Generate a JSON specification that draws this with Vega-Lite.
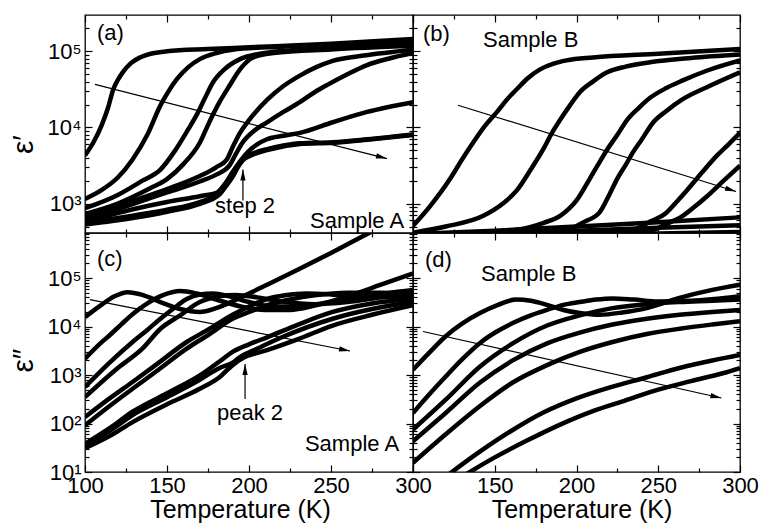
{
"$schema":"https://vega.github.io/schema/vega-lite/v6.json",
"padding":{"left":7,"top":13,"right":5,"bottom":5},
"background":"white",
"config":{"view":{"stroke":"black","strokeWidth":1.3},
"axis":{"domain":false,"grid":false,"labelFont":"Liberation Sans","labelFontSize":22,"labelColor":"black","labelFlush":false,"labelOverlap":false,"titleFont":"Liberation Sans","titleColor":"black","titleFontWeight":"normal","tickColor":"black","tickWidth":1.2},
"text":{"font":"Liberation Sans","fontSize":22,"color":"black"}},
"datasets":{
"curves":[
{"p":"a","c":1,"T":100,"v":4300},{"p":"a","c":1,"T":105,"v":6300},{"p":"a","c":1,"T":110,"v":10500},{"p":"a","c":1,"T":114,"v":18000},{"p":"a","c":1,"T":117.3,"v":32000},{"p":"a","c":1,"T":120,"v":42000},{"p":"a","c":1,"T":123,"v":53000},{"p":"a","c":1,"T":128,"v":70000},{"p":"a","c":1,"T":133.5,"v":83000},{"p":"a","c":1,"T":140,"v":93000},{"p":"a","c":1,"T":150,"v":100000},{"p":"a","c":1,"T":175,"v":107000},{"p":"a","c":1,"T":200,"v":113000},{"p":"a","c":1,"T":250,"v":126000},{"p":"a","c":1,"T":300,"v":145000},
{"p":"a","c":2,"T":100,"v":1150},{"p":"a","c":2,"T":110,"v":1500},{"p":"a","c":2,"T":120,"v":2200},{"p":"a","c":2,"T":129,"v":3800},{"p":"a","c":2,"T":138,"v":8000},{"p":"a","c":2,"T":146,"v":19500},{"p":"a","c":2,"T":151,"v":30000},{"p":"a","c":2,"T":156,"v":43000},{"p":"a","c":2,"T":163,"v":62000},{"p":"a","c":2,"T":170,"v":79000},{"p":"a","c":2,"T":180,"v":95000},{"p":"a","c":2,"T":190,"v":105000},{"p":"a","c":2,"T":220,"v":115000},{"p":"a","c":2,"T":260,"v":124000},{"p":"a","c":2,"T":300,"v":135000},
{"p":"a","c":3,"T":100,"v":870},{"p":"a","c":3,"T":120,"v":1300},{"p":"a","c":3,"T":135,"v":2000},{"p":"a","c":3,"T":146,"v":2800},{"p":"a","c":3,"T":155,"v":5000},{"p":"a","c":3,"T":163,"v":9500},{"p":"a","c":3,"T":168,"v":14500},{"p":"a","c":3,"T":173,"v":24000},{"p":"a","c":3,"T":178,"v":39000},{"p":"a","c":3,"T":185,"v":58000},{"p":"a","c":3,"T":194.5,"v":79000},{"p":"a","c":3,"T":205,"v":92000},{"p":"a","c":3,"T":230,"v":105000},{"p":"a","c":3,"T":260,"v":113000},{"p":"a","c":3,"T":300,"v":125000},
{"p":"a","c":4,"T":100,"v":730},{"p":"a","c":4,"T":120,"v":1000},{"p":"a","c":4,"T":140,"v":1600},{"p":"a","c":4,"T":150,"v":2100},{"p":"a","c":4,"T":160,"v":3300},{"p":"a","c":4,"T":170,"v":6300},{"p":"a","c":4,"T":176,"v":12000},{"p":"a","c":4,"T":182,"v":21500},{"p":"a","c":4,"T":188,"v":35000},{"p":"a","c":4,"T":194.5,"v":58000},{"p":"a","c":4,"T":202.5,"v":83000},{"p":"a","c":4,"T":215,"v":95000},{"p":"a","c":4,"T":250,"v":106000},{"p":"a","c":4,"T":300,"v":118000},
{"p":"a","c":5,"T":100,"v":650},{"p":"a","c":5,"T":130,"v":1100},{"p":"a","c":5,"T":150,"v":1550},{"p":"a","c":5,"T":170,"v":2300},{"p":"a","c":5,"T":180,"v":3000},{"p":"a","c":5,"T":186.5,"v":3800},{"p":"a","c":5,"T":190,"v":5500},{"p":"a","c":5,"T":194.5,"v":8500},{"p":"a","c":5,"T":200,"v":12500},{"p":"a","c":5,"T":211,"v":23000},{"p":"a","c":5,"T":221,"v":35000},{"p":"a","c":5,"T":231,"v":48000},{"p":"a","c":5,"T":241,"v":62000},{"p":"a","c":5,"T":251,"v":75000},{"p":"a","c":5,"T":270,"v":88000},{"p":"a","c":5,"T":300,"v":105000},
{"p":"a","c":6,"T":100,"v":610},{"p":"a","c":6,"T":130,"v":1000},{"p":"a","c":6,"T":150,"v":1400},{"p":"a","c":6,"T":170,"v":1950},{"p":"a","c":6,"T":180,"v":2400},{"p":"a","c":6,"T":188,"v":3150},{"p":"a","c":6,"T":192,"v":4500},{"p":"a","c":6,"T":196,"v":6300},{"p":"a","c":6,"T":203,"v":9000},{"p":"a","c":6,"T":211,"v":11700},{"p":"a","c":6,"T":221,"v":16000},{"p":"a","c":6,"T":231,"v":21500},{"p":"a","c":6,"T":240,"v":29000},{"p":"a","c":6,"T":247.5,"v":36000},{"p":"a","c":6,"T":260,"v":50000},{"p":"a","c":6,"T":272,"v":66000},{"p":"a","c":6,"T":285,"v":80000},{"p":"a","c":6,"T":300,"v":95000},
{"p":"a","c":7,"T":100,"v":580},{"p":"a","c":7,"T":130,"v":850},{"p":"a","c":7,"T":150,"v":1050},{"p":"a","c":7,"T":170,"v":1250},{"p":"a","c":7,"T":180.5,"v":1400},{"p":"a","c":7,"T":186,"v":1900},{"p":"a","c":7,"T":190,"v":2600},{"p":"a","c":7,"T":195,"v":3700},{"p":"a","c":7,"T":199,"v":4700},{"p":"a","c":7,"T":205,"v":6000},{"p":"a","c":7,"T":211,"v":7000},{"p":"a","c":7,"T":221,"v":7800},{"p":"a","c":7,"T":231,"v":8500},{"p":"a","c":7,"T":251,"v":11700},{"p":"a","c":7,"T":272,"v":16000},{"p":"a","c":7,"T":300,"v":21500},
{"p":"a","c":8,"T":100,"v":555},{"p":"a","c":8,"T":130,"v":700},{"p":"a","c":8,"T":150,"v":830},{"p":"a","c":8,"T":170,"v":1050},{"p":"a","c":8,"T":182,"v":1400},{"p":"a","c":8,"T":186,"v":1800},{"p":"a","c":8,"T":190,"v":2350},{"p":"a","c":8,"T":193,"v":3100},{"p":"a","c":8,"T":196,"v":3800},{"p":"a","c":8,"T":203,"v":4600},{"p":"a","c":8,"T":211,"v":5200},{"p":"a","c":8,"T":221,"v":5800},{"p":"a","c":8,"T":231,"v":6200},{"p":"a","c":8,"T":251,"v":6400},{"p":"a","c":8,"T":272,"v":7000},{"p":"a","c":8,"T":300,"v":8100},
{"p":"a","c":9,"T":100,"v":530},{"p":"a","c":9,"T":130,"v":650},{"p":"a","c":9,"T":150,"v":780},{"p":"a","c":9,"T":170,"v":990},{"p":"a","c":9,"T":182,"v":1320},{"p":"a","c":9,"T":186,"v":1700},{"p":"a","c":9,"T":190,"v":2250},{"p":"a","c":9,"T":193,"v":2950},{"p":"a","c":9,"T":196,"v":3650},{"p":"a","c":9,"T":203,"v":4450},{"p":"a","c":9,"T":211,"v":5050},{"p":"a","c":9,"T":231,"v":6050},{"p":"a","c":9,"T":251,"v":6300},{"p":"a","c":9,"T":272,"v":6900},{"p":"a","c":9,"T":300,"v":7950},

{"p":"b","c":1,"T":100,"v":510},{"p":"b","c":1,"T":110,"v":900},{"p":"b","c":1,"T":122.6,"v":2100},{"p":"b","c":1,"T":130,"v":3800},{"p":"b","c":1,"T":136.7,"v":6300},{"p":"b","c":1,"T":144,"v":10500},{"p":"b","c":1,"T":151.4,"v":16000},{"p":"b","c":1,"T":158,"v":24000},{"p":"b","c":1,"T":163.6,"v":32000},{"p":"b","c":1,"T":170,"v":44000},{"p":"b","c":1,"T":177.7,"v":58000},{"p":"b","c":1,"T":186,"v":69000},{"p":"b","c":1,"T":194,"v":76000},{"p":"b","c":1,"T":210,"v":83000},{"p":"b","c":1,"T":250,"v":93000},{"p":"b","c":1,"T":300,"v":107000},
{"p":"b","c":2,"T":100,"v":415},{"p":"b","c":2,"T":120,"v":500},{"p":"b","c":2,"T":143,"v":690},{"p":"b","c":2,"T":155,"v":1000},{"p":"b","c":2,"T":163.6,"v":1500},{"p":"b","c":2,"T":172,"v":2800},{"p":"b","c":2,"T":179.5,"v":5100},{"p":"b","c":2,"T":185,"v":8500},{"p":"b","c":2,"T":190,"v":12600},{"p":"b","c":2,"T":196,"v":19500},{"p":"b","c":2,"T":202,"v":29000},{"p":"b","c":2,"T":210,"v":40000},{"p":"b","c":2,"T":218.7,"v":53000},{"p":"b","c":2,"T":230,"v":63000},{"p":"b","c":2,"T":245,"v":72000},{"p":"b","c":2,"T":270,"v":82000},{"p":"b","c":2,"T":300,"v":91000},
{"p":"b","c":3,"T":100,"v":385},{"p":"b","c":3,"T":140,"v":420},{"p":"b","c":3,"T":163.6,"v":455},{"p":"b","c":3,"T":180,"v":560},{"p":"b","c":3,"T":190,"v":690},{"p":"b","c":3,"T":200,"v":1100},{"p":"b","c":3,"T":208,"v":2100},{"p":"b","c":3,"T":213,"v":3200},{"p":"b","c":3,"T":218.7,"v":5100},{"p":"b","c":3,"T":225,"v":8000},{"p":"b","c":3,"T":231,"v":12600},{"p":"b","c":3,"T":238,"v":18000},{"p":"b","c":3,"T":245,"v":24500},{"p":"b","c":3,"T":255,"v":33000},{"p":"b","c":3,"T":265,"v":41500},{"p":"b","c":3,"T":280,"v":56000},{"p":"b","c":3,"T":300,"v":76000},
{"p":"b","c":4,"T":100,"v":375},{"p":"b","c":4,"T":150,"v":400},{"p":"b","c":4,"T":194,"v":455},{"p":"b","c":4,"T":205,"v":580},{"p":"b","c":4,"T":214,"v":760},{"p":"b","c":4,"T":220,"v":1300},{"p":"b","c":4,"T":224.8,"v":2100},{"p":"b","c":4,"T":230,"v":3200},{"p":"b","c":4,"T":234.5,"v":4700},{"p":"b","c":4,"T":240,"v":7000},{"p":"b","c":4,"T":247,"v":11700},{"p":"b","c":4,"T":255,"v":16500},{"p":"b","c":4,"T":265,"v":23500},{"p":"b","c":4,"T":280,"v":34000},{"p":"b","c":4,"T":300,"v":53000},
{"p":"b","c":5,"T":100,"v":365},{"p":"b","c":5,"T":200,"v":420},{"p":"b","c":5,"T":234.5,"v":455},{"p":"b","c":5,"T":245,"v":580},{"p":"b","c":5,"T":255,"v":760},{"p":"b","c":5,"T":262,"v":1100},{"p":"b","c":5,"T":267.6,"v":1500},{"p":"b","c":5,"T":277,"v":2600},{"p":"b","c":5,"T":286,"v":4300},{"p":"b","c":5,"T":293,"v":6000},{"p":"b","c":5,"T":300,"v":8500},
{"p":"b","c":6,"T":100,"v":355},{"p":"b","c":6,"T":200,"v":400},{"p":"b","c":6,"T":245,"v":440},{"p":"b","c":6,"T":255,"v":540},{"p":"b","c":6,"T":265,"v":690},{"p":"b","c":6,"T":272,"v":900},{"p":"b","c":6,"T":280,"v":1260},{"p":"b","c":6,"T":290,"v":2000},{"p":"b","c":6,"T":300,"v":3150},
{"p":"b","c":7,"T":100,"v":400},{"p":"b","c":7,"T":150,"v":440},{"p":"b","c":7,"T":200,"v":500},{"p":"b","c":7,"T":250,"v":570},{"p":"b","c":7,"T":300,"v":660},
{"p":"b","c":8,"T":100,"v":370},{"p":"b","c":8,"T":150,"v":400},{"p":"b","c":8,"T":200,"v":440},{"p":"b","c":8,"T":250,"v":480},{"p":"b","c":8,"T":300,"v":520},
{"p":"b","c":9,"T":100,"v":340},{"p":"b","c":9,"T":150,"v":360},{"p":"b","c":9,"T":200,"v":385},{"p":"b","c":9,"T":250,"v":405},{"p":"b","c":9,"T":300,"v":425},

{"p":"c","c":1,"T":100,"v":15700},{"p":"c","c":1,"T":105,"v":21000},{"p":"c","c":1,"T":110,"v":28000},{"p":"c","c":1,"T":118,"v":42000},{"p":"c","c":1,"T":126,"v":51000},{"p":"c","c":1,"T":135,"v":45000},{"p":"c","c":1,"T":146,"v":32000},{"p":"c","c":1,"T":158,"v":23000},{"p":"c","c":1,"T":170,"v":20000},{"p":"c","c":1,"T":180,"v":24000},{"p":"c","c":1,"T":190,"v":33000},{"p":"c","c":1,"T":200,"v":48000},{"p":"c","c":1,"T":210,"v":70000},{"p":"c","c":1,"T":230,"v":150000},{"p":"c","c":1,"T":250,"v":330000},{"p":"c","c":1,"T":270,"v":750000},{"p":"c","c":1,"T":290,"v":1600000},
{"p":"c","c":2,"T":100,"v":2170},{"p":"c","c":2,"T":110,"v":4700},{"p":"c","c":2,"T":115,"v":6600},{"p":"c","c":2,"T":122,"v":11000},{"p":"c","c":2,"T":129,"v":18000},{"p":"c","c":2,"T":138,"v":30000},{"p":"c","c":2,"T":148,"v":45000},{"p":"c","c":2,"T":158,"v":54000},{"p":"c","c":2,"T":168,"v":48000},{"p":"c","c":2,"T":180,"v":36000},{"p":"c","c":2,"T":195,"v":26000},{"p":"c","c":2,"T":210,"v":22000},{"p":"c","c":2,"T":225,"v":22000},{"p":"c","c":2,"T":240,"v":27000},{"p":"c","c":2,"T":260,"v":42000},{"p":"c","c":2,"T":280,"v":72000},{"p":"c","c":2,"T":300,"v":125000},
{"p":"c","c":3,"T":100,"v":566},{"p":"c","c":3,"T":115,"v":1800},{"p":"c","c":3,"T":129,"v":4800},{"p":"c","c":3,"T":138,"v":8500},{"p":"c","c":3,"T":146,"v":14500},{"p":"c","c":3,"T":155,"v":25000},{"p":"c","c":3,"T":162,"v":37000},{"p":"c","c":3,"T":170,"v":46000},{"p":"c","c":3,"T":178,"v":48000},{"p":"c","c":3,"T":188,"v":42000},{"p":"c","c":3,"T":200,"v":32000},{"p":"c","c":3,"T":215,"v":26000},{"p":"c","c":3,"T":230,"v":26000},{"p":"c","c":3,"T":250,"v":32000},{"p":"c","c":3,"T":270,"v":42000},{"p":"c","c":3,"T":300,"v":57000},
{"p":"c","c":4,"T":100,"v":352},{"p":"c","c":4,"T":120,"v":1400},{"p":"c","c":4,"T":135,"v":3500},{"p":"c","c":4,"T":146,"v":9000},{"p":"c","c":4,"T":158,"v":17000},{"p":"c","c":4,"T":170,"v":32000},{"p":"c","c":4,"T":182,"v":42000},{"p":"c","c":4,"T":192,"v":45000},{"p":"c","c":4,"T":205,"v":40000},{"p":"c","c":4,"T":220,"v":33000},{"p":"c","c":4,"T":240,"v":29000},{"p":"c","c":4,"T":260,"v":32000},{"p":"c","c":4,"T":280,"v":40000},{"p":"c","c":4,"T":300,"v":50000},
{"p":"c","c":5,"T":100,"v":136},{"p":"c","c":5,"T":115,"v":330},{"p":"c","c":5,"T":129,"v":720},{"p":"c","c":5,"T":145,"v":1800},{"p":"c","c":5,"T":162,"v":4800},{"p":"c","c":5,"T":176,"v":9000},{"p":"c","c":5,"T":190,"v":17500},{"p":"c","c":5,"T":200,"v":26000},{"p":"c","c":5,"T":211,"v":37000},{"p":"c","c":5,"T":222,"v":44000},{"p":"c","c":5,"T":235,"v":48000},{"p":"c","c":5,"T":250,"v":46000},{"p":"c","c":5,"T":270,"v":41000},{"p":"c","c":5,"T":290,"v":40000},{"p":"c","c":5,"T":300,"v":42000},
{"p":"c","c":6,"T":100,"v":92},{"p":"c","c":6,"T":115,"v":230},{"p":"c","c":6,"T":129,"v":520},{"p":"c","c":6,"T":145,"v":1300},{"p":"c","c":6,"T":162,"v":3500},{"p":"c","c":6,"T":176,"v":7000},{"p":"c","c":6,"T":190,"v":14500},{"p":"c","c":6,"T":200,"v":20000},{"p":"c","c":6,"T":211,"v":27500},{"p":"c","c":6,"T":225,"v":36000},{"p":"c","c":6,"T":240,"v":44000},{"p":"c","c":6,"T":260,"v":50000},{"p":"c","c":6,"T":280,"v":50000},{"p":"c","c":6,"T":300,"v":47000},
{"p":"c","c":7,"T":100,"v":38},{"p":"c","c":7,"T":115,"v":80},{"p":"c","c":7,"T":129,"v":175},{"p":"c","c":7,"T":150,"v":420},{"p":"c","c":7,"T":170,"v":980},{"p":"c","c":7,"T":182,"v":1900},{"p":"c","c":7,"T":190,"v":3000},{"p":"c","c":7,"T":200,"v":4300},{"p":"c","c":7,"T":211,"v":6000},{"p":"c","c":7,"T":230,"v":11000},{"p":"c","c":7,"T":251,"v":20000},{"p":"c","c":7,"T":275,"v":30000},{"p":"c","c":7,"T":300,"v":37000},
{"p":"c","c":8,"T":100,"v":36},{"p":"c","c":8,"T":115,"v":70},{"p":"c","c":8,"T":129,"v":150},{"p":"c","c":8,"T":150,"v":350},{"p":"c","c":8,"T":170,"v":800},{"p":"c","c":8,"T":182,"v":1400},{"p":"c","c":8,"T":190,"v":1800},{"p":"c","c":8,"T":194.5,"v":2350},{"p":"c","c":8,"T":205,"v":3500},{"p":"c","c":8,"T":220,"v":6000},{"p":"c","c":8,"T":251,"v":14500},{"p":"c","c":8,"T":275,"v":23000},{"p":"c","c":8,"T":300,"v":32000},
{"p":"c","c":9,"T":100,"v":31},{"p":"c","c":9,"T":115,"v":55},{"p":"c","c":9,"T":129,"v":107},{"p":"c","c":9,"T":150,"v":250},{"p":"c","c":9,"T":170,"v":520},{"p":"c","c":9,"T":182,"v":900},{"p":"c","c":9,"T":190,"v":1600},{"p":"c","c":9,"T":196,"v":2200},{"p":"c","c":9,"T":211,"v":3250},{"p":"c","c":9,"T":230,"v":5500},{"p":"c","c":9,"T":251,"v":10500},{"p":"c","c":9,"T":275,"v":17500},{"p":"c","c":9,"T":300,"v":27500},

{"p":"d","c":1,"T":100,"v":1290},{"p":"d","c":1,"T":110,"v":2900},{"p":"d","c":1,"T":120,"v":6300},{"p":"d","c":1,"T":130,"v":11500},{"p":"d","c":1,"T":141,"v":19000},{"p":"d","c":1,"T":152,"v":28000},{"p":"d","c":1,"T":163,"v":36000},{"p":"d","c":1,"T":172,"v":34000},{"p":"d","c":1,"T":182,"v":28000},{"p":"d","c":1,"T":192,"v":22000},{"p":"d","c":1,"T":202,"v":19000},{"p":"d","c":1,"T":214,"v":17500},{"p":"d","c":1,"T":228,"v":19500},{"p":"d","c":1,"T":243,"v":24000},{"p":"d","c":1,"T":263,"v":39000},{"p":"d","c":1,"T":283,"v":57000},{"p":"d","c":1,"T":300,"v":73000},
{"p":"d","c":2,"T":100,"v":165},{"p":"d","c":2,"T":110,"v":400},{"p":"d","c":2,"T":120,"v":930},{"p":"d","c":2,"T":130,"v":2100},{"p":"d","c":2,"T":141,"v":4600},{"p":"d","c":2,"T":151,"v":7800},{"p":"d","c":2,"T":161,"v":11800},{"p":"d","c":2,"T":172,"v":17000},{"p":"d","c":2,"T":182,"v":22000},{"p":"d","c":2,"T":192,"v":28000},{"p":"d","c":2,"T":202,"v":32000},{"p":"d","c":2,"T":212,"v":36000},{"p":"d","c":2,"T":222,"v":38000},{"p":"d","c":2,"T":235,"v":36000},{"p":"d","c":2,"T":250,"v":33000},{"p":"d","c":2,"T":270,"v":34000},{"p":"d","c":2,"T":300,"v":42000},
{"p":"d","c":3,"T":100,"v":75},{"p":"d","c":3,"T":120,"v":310},{"p":"d","c":3,"T":141,"v":1500},{"p":"d","c":3,"T":161,"v":4500},{"p":"d","c":3,"T":182,"v":10500},{"p":"d","c":3,"T":202,"v":17000},{"p":"d","c":3,"T":222,"v":24000},{"p":"d","c":3,"T":243,"v":29000},{"p":"d","c":3,"T":263,"v":32000},{"p":"d","c":3,"T":283,"v":34000},{"p":"d","c":3,"T":300,"v":36000},
{"p":"d","c":4,"T":100,"v":43},{"p":"d","c":4,"T":120,"v":165},{"p":"d","c":4,"T":141,"v":700},{"p":"d","c":4,"T":161,"v":2000},{"p":"d","c":4,"T":182,"v":4500},{"p":"d","c":4,"T":202,"v":7500},{"p":"d","c":4,"T":222,"v":11000},{"p":"d","c":4,"T":243,"v":14500},{"p":"d","c":4,"T":263,"v":17500},{"p":"d","c":4,"T":283,"v":20000},{"p":"d","c":4,"T":300,"v":22000},
{"p":"d","c":5,"T":100,"v":15.5},{"p":"d","c":5,"T":120,"v":60},{"p":"d","c":5,"T":141,"v":230},{"p":"d","c":5,"T":161,"v":700},{"p":"d","c":5,"T":182,"v":1600},{"p":"d","c":5,"T":202,"v":3000},{"p":"d","c":5,"T":222,"v":4800},{"p":"d","c":5,"T":243,"v":7000},{"p":"d","c":5,"T":263,"v":9000},{"p":"d","c":5,"T":283,"v":11000},{"p":"d","c":5,"T":300,"v":12800},
{"p":"d","c":6,"T":120,"v":8},{"p":"d","c":6,"T":140,"v":25},{"p":"d","c":6,"T":160,"v":70},{"p":"d","c":6,"T":180,"v":170},{"p":"d","c":6,"T":200,"v":330},{"p":"d","c":6,"T":220,"v":550},{"p":"d","c":6,"T":243,"v":900},{"p":"d","c":6,"T":263,"v":1400},{"p":"d","c":6,"T":283,"v":2000},{"p":"d","c":6,"T":300,"v":2600},
{"p":"d","c":7,"T":130,"v":8},{"p":"d","c":7,"T":150,"v":20},{"p":"d","c":7,"T":170,"v":45},{"p":"d","c":7,"T":190,"v":95},{"p":"d","c":7,"T":210,"v":180},{"p":"d","c":7,"T":230,"v":300},{"p":"d","c":7,"T":250,"v":500},{"p":"d","c":7,"T":270,"v":750},{"p":"d","c":7,"T":290,"v":1100},{"p":"d","c":7,"T":300,"v":1390}
],
"arrows":[
{"p":"a","id":"a1","k":0,"T":106.1,"v":36800},{"p":"a","id":"a1","k":1,"T":284.1,"v":3900},
{"p":"a","id":"a2","k":0,"T":196.3,"v":1100},{"p":"a","id":"a2","k":1,"T":196.3,"v":2800},
{"p":"b","id":"b1","k":0,"T":127.5,"v":19600},{"p":"b","id":"b1","k":1,"T":297.6,"v":1440},
{"p":"c","id":"c1","k":0,"T":103,"v":35800},{"p":"c","id":"c1","k":1,"T":261.6,"v":3130},
{"p":"c","id":"c2","k":0,"T":197.6,"v":320},{"p":"c","id":"c2","k":1,"T":197.6,"v":1690},
{"p":"d","id":"d1","k":0,"T":106.1,"v":7900},{"p":"d","id":"d1","k":1,"T":288.6,"v":336}
],
"texts":[
{"p":"a","t":"(a)","T":107.3,"v":142000},{"p":"a","t":"step 2","T":179.3,"v":762},{"p":"a","t":"Sample A","T":237.2,"v":483},
{"p":"b","t":"(b)","T":106.1,"v":137000},{"p":"b","t":"Sample B","T":142.8,"v":113000},
{"p":"c","t":"(c)","T":107.3,"v":181000},{"p":"c","t":"peak 2","T":180.5,"v":116},{"p":"c","t":"Sample A","T":234.1,"v":27},
{"p":"d","t":"(d)","T":107.3,"v":173000},{"p":"d","t":"Sample B","T":141.6,"v":85500}
]},
"columns":2,"spacing":0,"bounds":"flush",
"concat":[
{"width":328,"height":218,"resolve":{"axis":{"x":"independent","y":"independent"}},
"layer":[
{"data":{"name":"curves"},"transform":[{"filter":"datum.p=='a'"}],
"mark":{"type":"line","color":"black","strokeWidth":4.5,"clip":true,"interpolate":"monotone"},
"encoding":{"x":{"field":"T","type":"quantitative","scale":{"domain":[100,300],"nice":false,"zero":false},"axis":null},
"y":{"field":"v","type":"quantitative","scale":{"type":"log","domain":[411,300000],"nice":false},
"axis":{"orient":"left","values":[1000,10000,100000],"ticks":false,"labelPadding":4,"labelAlign":"right","labelBaseline":"middle","labelExpr":"'10' + ['⁰','¹','²','³','⁴','⁵','⁶'][round(log(datum.value)/LN10)]","title":"ε′","titleFontSize":30,"titleAngle":270,"titleX":-62,"titleY":129,"titleAlign":"center","titleBaseline":"middle"}},
"detail":{"field":"c"}}},
{"data":{"name":"arrows"},"transform":[{"filter":"datum.p=='a'"}],
"mark":{"type":"line","color":"black","strokeWidth":1.2,"clip":true},
"encoding":{"x":{"field":"T","type":"quantitative","axis":{"orient":"bottom","values":[100,125,150,175,200,225,250,275,300],"labels":false,"title":null,"tickSize":{"condition":{"test":"datum.value % 50 == 0","value":-7},"value":-4}}},
"y":{"field":"v","type":"quantitative","axis":{"orient":"left","values":[500,600,700,800,900,1000,2000,3000,4000,5000,6000,7000,8000,9000,10000,20000,30000,40000,50000,60000,70000,80000,90000,100000,200000],"labels":false,"title":null,"tickSize":{"condition":{"test":"abs(log(datum.value)/LN10 - round(log(datum.value)/LN10)) < 0.001","value":-7},"value":-4}}},
"detail":{"field":"id"}}},
{"data":{"name":"arrows"},"transform":[{"filter":"datum.id=='a1' && datum.k==1"}],
"mark":{"type":"point","shape":"M0,0L-1,-0.24L-1,0.24Z","size":484,"filled":true,"color":"black","opacity":1,"angle":14.2},
"encoding":{"x":{"field":"T","type":"quantitative","axis":{"orient":"top","values":[100,125,150,175,200,225,250,275,300],"labels":false,"title":null,"tickSize":{"condition":{"test":"datum.value % 50 == 0","value":-7},"value":-4}}},
"y":{"field":"v","type":"quantitative","axis":{"orient":"right","values":[500,600,700,800,900,1000,2000,3000,4000,5000,6000,7000,8000,9000,10000,20000,30000,40000,50000,60000,70000,80000,90000,100000,200000],"labels":false,"title":null,"tickSize":{"condition":{"test":"abs(log(datum.value)/LN10 - round(log(datum.value)/LN10)) < 0.001","value":-7},"value":-4}}}}},
{"data":{"name":"arrows"},"transform":[{"filter":"datum.id=='a2' && datum.k==1"}],
"mark":{"type":"point","shape":"M0,0L-1,-0.24L-1,0.24Z","size":484,"filled":true,"color":"black","opacity":1,"angle":-90},
"encoding":{"x":{"field":"T","type":"quantitative","axis":null},"y":{"field":"v","type":"quantitative","axis":null}}},
{"data":{"name":"texts"},"transform":[{"filter":"datum.p=='a'"}],
"mark":{"type":"text","align":"left","baseline":"alphabetic"},
"encoding":{"x":{"field":"T","type":"quantitative","axis":null},"y":{"field":"v","type":"quantitative","axis":null},"text":{"field":"t"}}}
]},
{"width":327,"height":218,"resolve":{"axis":{"x":"independent","y":"independent"}},
"layer":[
{"data":{"name":"curves"},"transform":[{"filter":"datum.p=='b'"}],
"mark":{"type":"line","color":"black","strokeWidth":4.5,"clip":true,"interpolate":"monotone"},
"encoding":{"x":{"field":"T","type":"quantitative","scale":{"domain":[100,300],"nice":false,"zero":false},"axis":null},
"y":{"field":"v","type":"quantitative","scale":{"type":"log","domain":[411,300000],"nice":false},"axis":null},
"detail":{"field":"c"}}},
{"data":{"name":"arrows"},"transform":[{"filter":"datum.p=='b'"}],
"mark":{"type":"line","color":"black","strokeWidth":1.2,"clip":true},
"encoding":{"x":{"field":"T","type":"quantitative","axis":{"orient":"bottom","values":[100,125,150,175,200,225,250,275,300],"labels":false,"title":null,"tickSize":{"condition":{"test":"datum.value % 50 == 0","value":-7},"value":-4}}},
"y":{"field":"v","type":"quantitative","axis":{"orient":"left","values":[500,600,700,800,900,1000,2000,3000,4000,5000,6000,7000,8000,9000,10000,20000,30000,40000,50000,60000,70000,80000,90000,100000,200000],"labels":false,"title":null,"tickSize":{"condition":{"test":"abs(log(datum.value)/LN10 - round(log(datum.value)/LN10)) < 0.001","value":-7},"value":-4}}},
"detail":{"field":"id"}}},
{"data":{"name":"arrows"},"transform":[{"filter":"datum.id=='b1' && datum.k==1"}],
"mark":{"type":"point","shape":"M0,0L-1,-0.24L-1,0.24Z","size":484,"filled":true,"color":"black","opacity":1,"angle":17.2},
"encoding":{"x":{"field":"T","type":"quantitative","axis":{"orient":"top","values":[100,125,150,175,200,225,250,275,300],"labels":false,"title":null,"tickSize":{"condition":{"test":"datum.value % 50 == 0","value":-7},"value":-4}}},
"y":{"field":"v","type":"quantitative","axis":{"orient":"right","values":[500,600,700,800,900,1000,2000,3000,4000,5000,6000,7000,8000,9000,10000,20000,30000,40000,50000,60000,70000,80000,90000,100000,200000],"labels":false,"title":null,"tickSize":{"condition":{"test":"abs(log(datum.value)/LN10 - round(log(datum.value)/LN10)) < 0.001","value":-7},"value":-4}}}}},
{"data":{"name":"texts"},"transform":[{"filter":"datum.p=='b'"}],
"mark":{"type":"text","align":"left","baseline":"alphabetic"},
"encoding":{"x":{"field":"T","type":"quantitative","axis":null},"y":{"field":"v","type":"quantitative","axis":null},"text":{"field":"t"}}}
]},
{"width":328,"height":239,"resolve":{"axis":{"x":"independent","y":"independent"}},
"layer":[
{"data":{"name":"curves"},"transform":[{"filter":"datum.p=='c'"}],
"mark":{"type":"line","color":"black","strokeWidth":4.5,"clip":true,"interpolate":"monotone"},
"encoding":{"x":{"field":"T","type":"quantitative","scale":{"domain":[100,300],"nice":false,"zero":false},
"axis":{"orient":"bottom","values":[100,150,200,250,300],"ticks":false,"format":"d","labelPadding":20,"labelBaseline":"alphabetic","title":"Temperature (K)","titleFontSize":25,"titleX":155,"titleY":45,"titleAlign":"center","titleBaseline":"alphabetic"}},
"y":{"field":"v","type":"quantitative","scale":{"type":"log","domain":[10,850000],"nice":false},
"axis":{"orient":"left","values":[10,100,1000,10000,100000],"ticks":false,"labelPadding":4,"labelAlign":"right","labelBaseline":"middle","labelExpr":"'10' + ['⁰','¹','²','³','⁴','⁵','⁶'][round(log(datum.value)/LN10)]","title":"ε″","titleFontSize":30,"titleAngle":270,"titleX":-62,"titleY":127,"titleAlign":"center","titleBaseline":"middle"}},
"detail":{"field":"c"}}},
{"data":{"name":"arrows"},"transform":[{"filter":"datum.p=='c'"}],
"mark":{"type":"line","color":"black","strokeWidth":1.2,"clip":true},
"encoding":{"x":{"field":"T","type":"quantitative","axis":{"orient":"bottom","values":[100,125,150,175,200,225,250,275,300],"labels":false,"title":null,"tickSize":{"condition":{"test":"datum.value % 50 == 0","value":-7},"value":-4}}},
"y":{"field":"v","type":"quantitative","axis":{"orient":"left","values":[10,20,30,40,50,60,70,80,90,100,200,300,400,500,600,700,800,900,1000,2000,3000,4000,5000,6000,7000,8000,9000,10000,20000,30000,40000,50000,60000,70000,80000,90000,100000,200000,300000,400000,500000,600000,700000,800000],"labels":false,"title":null,"tickSize":{"condition":{"test":"abs(log(datum.value)/LN10 - round(log(datum.value)/LN10)) < 0.001","value":-7},"value":-4}}},
"detail":{"field":"id"}}},
{"data":{"name":"arrows"},"transform":[{"filter":"datum.id=='c1' && datum.k==1"}],
"mark":{"type":"point","shape":"M0,0L-1,-0.24L-1,0.24Z","size":484,"filled":true,"color":"black","opacity":1,"angle":11.2},
"encoding":{"x":{"field":"T","type":"quantitative","axis":{"orient":"top","values":[100,125,150,175,200,225,250,275,300],"labels":false,"title":null,"tickSize":{"condition":{"test":"datum.value % 50 == 0","value":-7},"value":-4}}},
"y":{"field":"v","type":"quantitative","axis":{"orient":"right","values":[10,20,30,40,50,60,70,80,90,100,200,300,400,500,600,700,800,900,1000,2000,3000,4000,5000,6000,7000,8000,9000,10000,20000,30000,40000,50000,60000,70000,80000,90000,100000,200000,300000,400000,500000,600000,700000,800000],"labels":false,"title":null,"tickSize":{"condition":{"test":"abs(log(datum.value)/LN10 - round(log(datum.value)/LN10)) < 0.001","value":-7},"value":-4}}}}},
{"data":{"name":"arrows"},"transform":[{"filter":"datum.id=='c2' && datum.k==1"}],
"mark":{"type":"point","shape":"M0,0L-1,-0.24L-1,0.24Z","size":484,"filled":true,"color":"black","opacity":1,"angle":-90},
"encoding":{"x":{"field":"T","type":"quantitative","axis":null},"y":{"field":"v","type":"quantitative","axis":null}}},
{"data":{"name":"texts"},"transform":[{"filter":"datum.p=='c'"}],
"mark":{"type":"text","align":"left","baseline":"alphabetic"},
"encoding":{"x":{"field":"T","type":"quantitative","axis":null},"y":{"field":"v","type":"quantitative","axis":null},"text":{"field":"t"}}}
]},
{"width":327,"height":239,"resolve":{"axis":{"x":"independent","y":"independent"}},
"layer":[
{"data":{"name":"curves"},"transform":[{"filter":"datum.p=='d'"}],
"mark":{"type":"line","color":"black","strokeWidth":4.5,"clip":true,"interpolate":"monotone"},
"encoding":{"x":{"field":"T","type":"quantitative","scale":{"domain":[100,300],"nice":false,"zero":false},
"axis":{"orient":"bottom","values":[100,150,200,250,300],"ticks":false,"format":"d","labelPadding":20,"labelBaseline":"alphabetic","labelExpr":"datum.value == 100 ? '' : datum.label","title":"Temperature (K)","titleFontSize":25,"titleX":168.5,"titleY":45,"titleAlign":"center","titleBaseline":"alphabetic"}},
"y":{"field":"v","type":"quantitative","scale":{"type":"log","domain":[10,850000],"nice":false},"axis":null},
"detail":{"field":"c"}}},
{"data":{"name":"arrows"},"transform":[{"filter":"datum.p=='d'"}],
"mark":{"type":"line","color":"black","strokeWidth":1.2,"clip":true},
"encoding":{"x":{"field":"T","type":"quantitative","axis":{"orient":"bottom","values":[100,125,150,175,200,225,250,275,300],"labels":false,"title":null,"tickSize":{"condition":{"test":"datum.value % 50 == 0","value":-7},"value":-4}}},
"y":{"field":"v","type":"quantitative","axis":{"orient":"left","values":[10,20,30,40,50,60,70,80,90,100,200,300,400,500,600,700,800,900,1000,2000,3000,4000,5000,6000,7000,8000,9000,10000,20000,30000,40000,50000,60000,70000,80000,90000,100000,200000,300000,400000,500000,600000,700000,800000],"labels":false,"title":null,"tickSize":{"condition":{"test":"abs(log(datum.value)/LN10 - round(log(datum.value)/LN10)) < 0.001","value":-7},"value":-4}}},
"detail":{"field":"id"}}},
{"data":{"name":"arrows"},"transform":[{"filter":"datum.id=='d1' && datum.k==1"}],
"mark":{"type":"point","shape":"M0,0L-1,-0.24L-1,0.24Z","size":484,"filled":true,"color":"black","opacity":1,"angle":12.6},
"encoding":{"x":{"field":"T","type":"quantitative","axis":{"orient":"top","values":[100,125,150,175,200,225,250,275,300],"labels":false,"title":null,"tickSize":{"condition":{"test":"datum.value % 50 == 0","value":-7},"value":-4}}},
"y":{"field":"v","type":"quantitative","axis":{"orient":"right","values":[10,20,30,40,50,60,70,80,90,100,200,300,400,500,600,700,800,900,1000,2000,3000,4000,5000,6000,7000,8000,9000,10000,20000,30000,40000,50000,60000,70000,80000,90000,100000,200000,300000,400000,500000,600000,700000,800000],"labels":false,"title":null,"tickSize":{"condition":{"test":"abs(log(datum.value)/LN10 - round(log(datum.value)/LN10)) < 0.001","value":-7},"value":-4}}}}},
{"data":{"name":"texts"},"transform":[{"filter":"datum.p=='d'"}],
"mark":{"type":"text","align":"left","baseline":"alphabetic"},
"encoding":{"x":{"field":"T","type":"quantitative","axis":null},"y":{"field":"v","type":"quantitative","axis":null},"text":{"field":"t"}}}
]}
]}
